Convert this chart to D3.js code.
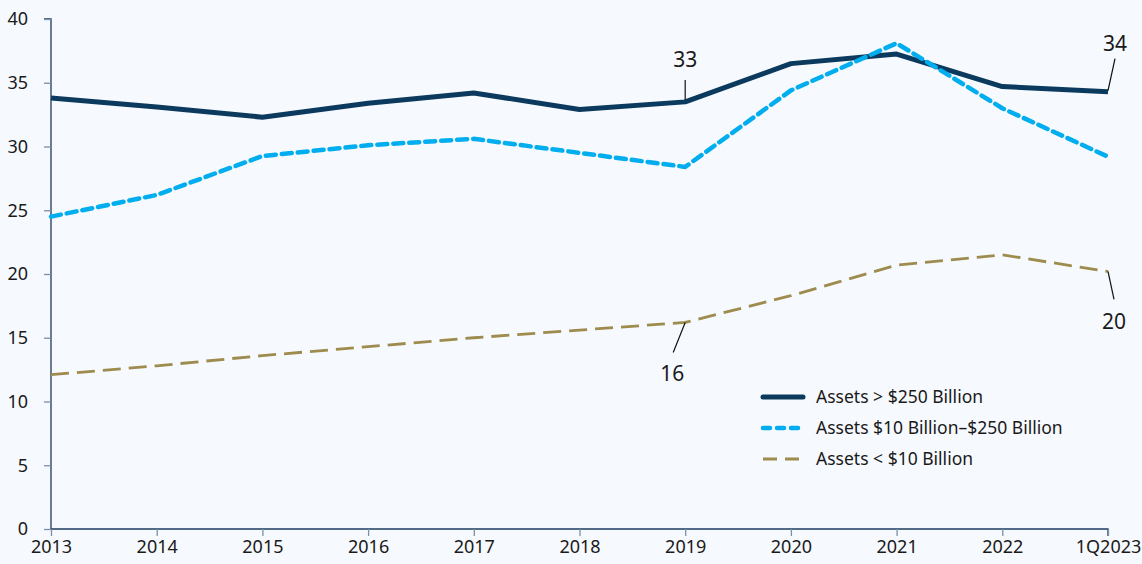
<!DOCTYPE html>
<html>
<head>
<meta charset="utf-8">
<script src="https://cdnjs.cloudflare.com/ajax/libs/d3/7.8.5/d3.min.js"></script>
<style>
  html, body { margin: 0; padding: 0; background: #f6f9fd; }
  svg { display: block; font-family: "Noto Sans", sans-serif; }
</style>
</head>
<body>
<svg id="chart" width="1142" height="564"></svg>
<script>
// categories and series
const years = ["2013", "2014", "2015", "2016", "2017", "2018", "2019", "2020", "2021", "2022", "1Q2023"];
const large = [33.8, 33.1, 32.3, 33.4, 34.2, 32.9, 33.5, 36.5, 37.25, 34.7, 34.3];
const mid = [24.5, 26.2, 29.25, 30.1, 30.6, 29.5, 28.4, 34.4, 38.1, 33.0, 29.2];
const small = [12.1, 12.8, 13.6, 14.3, 15.0, 15.6, 16.2, 18.3, 20.7, 21.5, 20.2];
const yTicks = [0, 5, 10, 15, 20, 25, 30, 35, 40];
const labels = ["Assets > $250 Billion", "Assets $10 Billion\u2013$250 Billion", "Assets < $10 Billion"];

const series = [
  { name: labels[0], values: large, color: "#0b3a5e", width: 5, dash: null },
  { name: labels[1], values: mid, color: "#00aeef", width: 4.5, dash: "10,6" },
  { name: labels[2], values: small, color: "#9e8b4e", width: 2.8, dash: "18,8" }
];

const svg = d3.select("#chart");
const margin = { left: 51, right: 34, top: 19, bottom: 35 };
const W = 1142, H = 564;

const x = d3.scalePoint().domain(years).range([margin.left, W - margin.right]);
const y = d3.scaleLinear().domain([0, 40]).range([H - margin.bottom, margin.top]);

// axes
const yAxis = svg.append("g")
  .attr("transform", `translate(${margin.left},0)`)
  .call(d3.axisLeft(y).tickValues(yTicks).tickSize(7).tickPadding(16));
const xAxis = svg.append("g")
  .attr("transform", `translate(0,${H - margin.bottom})`)
  .call(d3.axisBottom(x).tickSize(7).tickPadding(4));

[yAxis, xAxis].forEach(a => {
  a.select(".domain").attr("stroke", "#1c3b5e").attr("stroke-width", 1.3);
  a.selectAll(".tick line").attr("stroke", "#7b90a8").attr("stroke-width", 1.3);
  a.selectAll("text").attr("fill", "#1a1a1a").style("font-size", "18px")
    .style("font-family", "'Noto Sans', sans-serif");
});
yAxis.select(".domain").attr("d", `M-7,${y(40)}H0V${y(0)}`);
xAxis.select(".domain").attr("d", `M${margin.left},0H${W - margin.right}V7`);

const line = d3.line()
  .x((d, i) => x(years[i]))
  .y(d => y(d));

// draw lines: small first, then large, then mid on top
[series[2], series[0], series[1]].forEach(s => {
  svg.append("path")
    .datum(s.values)
    .attr("d", line)
    .attr("fill", "none")
    .attr("stroke", s.color)
    .attr("stroke-width", s.width)
    .attr("stroke-dasharray", s.dash)
    .attr("stroke-linecap", s.dash && s.width > 3 ? "round" : "butt")
    .attr("stroke-linejoin", "round");
});

// annotations
const notes = [
  { s: large, i: 6, text: "33", dx1: 0, dy1: -2, dx2: 0, dy2: -22, tx: 0, ty: -35 },
  { s: large, i: 10, text: "34", dx1: 0, dy1: -1, dx2: 7, dy2: -33, tx: 7, ty: -41 },
  { s: small, i: 6, text: "16", dx1: 0, dy1: 0, dx2: -12, dy2: 30, tx: -13, ty: 59 },
  { s: small, i: 10, text: "20", dx1: 0, dy1: 0, dx2: 6, dy2: 28, tx: 6, ty: 58 }
];
notes.forEach(n => {
  const px = x(years[n.i]), py = y(n.s[n.i]);
  svg.append("line")
    .attr("x1", px + n.dx1).attr("y1", py + n.dy1)
    .attr("x2", px + n.dx2).attr("y2", py + n.dy2)
    .attr("stroke", "#111").attr("stroke-width", 1.2);
  svg.append("text")
    .attr("x", px + n.tx).attr("y", py + n.ty)
    .attr("text-anchor", "middle")
    .attr("fill", "#1a1a1a")
    .style("font-size", "21px")
    .text(n.text);
});

// legend
const legend = svg.append("g").attr("transform", "translate(761,397)");
series.forEach((s, i) => {
  const g = legend.append("g").attr("transform", `translate(0,${i * 31})`);
  g.append("line")
    .attr("x1", 2).attr("x2", 42).attr("y1", 0).attr("y2", 0)
    .attr("stroke", s.color)
    .attr("stroke-width", s.width)
    .attr("stroke-dasharray", i === 1 ? "7,7" : i === 2 ? "14,8" : null)
    .attr("stroke-linecap", i === 2 ? "butt" : "round");
  g.append("text")
    .attr("x", 55).attr("y", 0).attr("dy", "0.35em")
    .attr("fill", "#1a1a1a")
    .style("font-size", "17.5px")
    .text(s.name);
});
</script>
</body>
</html>
